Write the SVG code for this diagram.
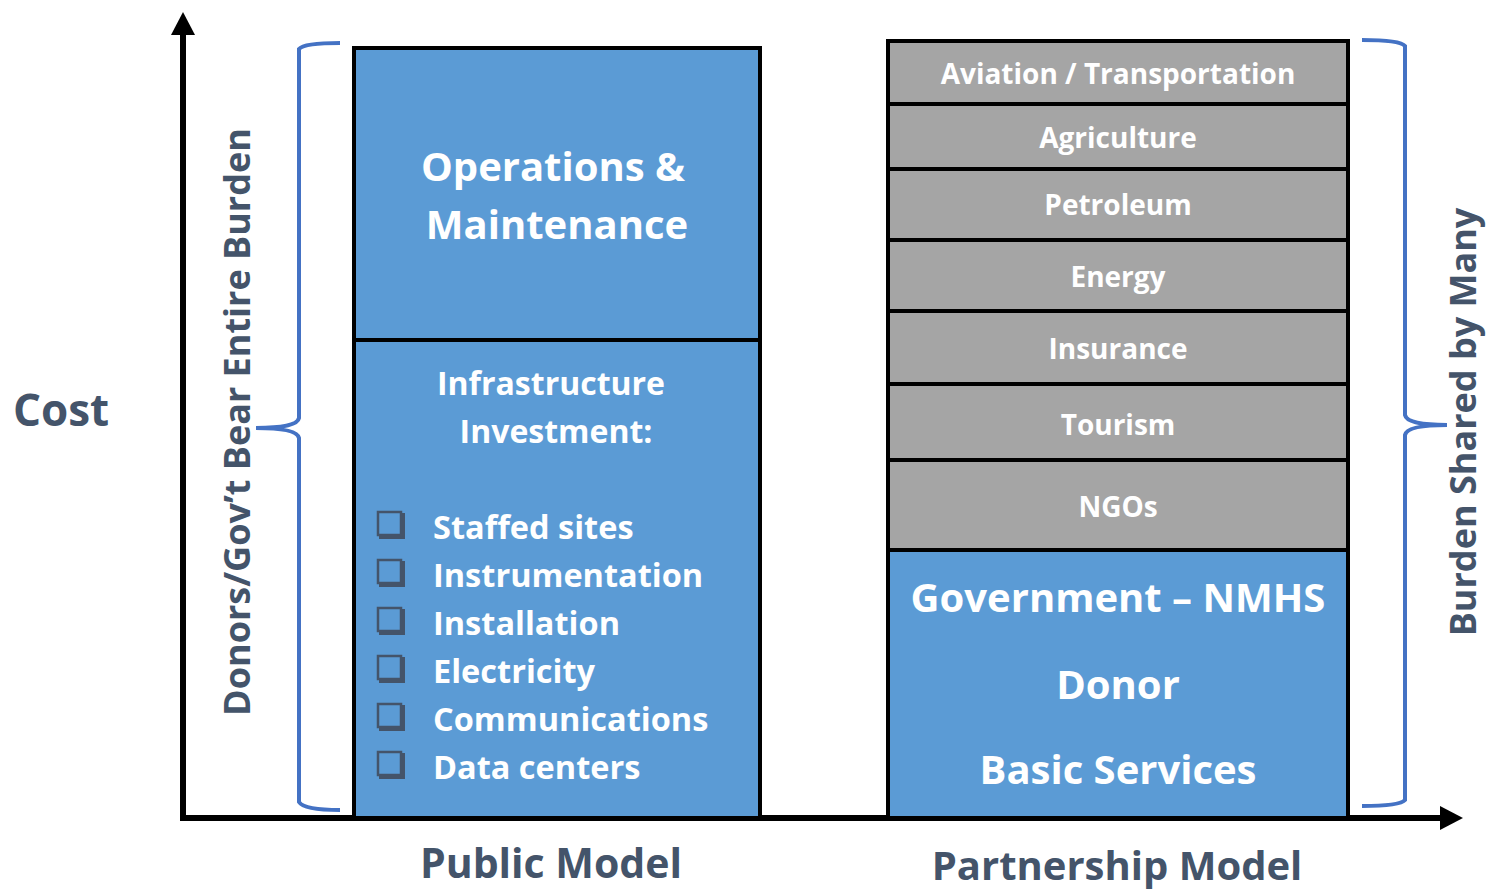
<svg xmlns="http://www.w3.org/2000/svg" width="1486" height="891" viewBox="0 0 1486 891">
<defs>
<style>
text{font-family:"Open Sans","Noto Sans","Liberation Sans",sans-serif;font-weight:bold;}
.w{fill:#ffffff;text-anchor:middle;}
.d{fill:#44546A;}
.blue{fill:#5B9BD5;stroke:#000;stroke-width:4;}
.gray{fill:#A5A5A5;stroke:#000;stroke-width:4;}
.brace{fill:none;stroke:#4472C4;stroke-width:4;}
.li{fill:#ffffff;font-size:32.5px;}
.g{font-size:28px;}
</style>
<symbol id="cb" overflow="visible">
<rect x="1" y="1" width="26" height="26" fill="#44546A"/>
<rect x="0" y="0" width="23" height="23" fill="#5B9BD5" stroke="#44546A" stroke-width="2.5"/>
</symbol>
</defs>

<g id="axes">
<line x1="183" y1="818" x2="183" y2="32" stroke="#000" stroke-width="6"/>
<polygon points="183,12 171,35 195,35" fill="#000"/>
<line x1="180" y1="818" x2="1442" y2="818" stroke="#000" stroke-width="6"/>
<polygon points="1463,818 1440,806 1440,830" fill="#000"/>
</g>

<g id="public-model">
<rect class="blue" x="354" y="48" width="406" height="292"/>
<rect class="blue" x="354" y="340" width="406" height="478"/>
<text class="w" x="553" y="181" font-size="40">Operations &amp;</text>
<text class="w" x="557" y="239" font-size="40">Maintenance</text>
<text class="w" x="551" y="395" font-size="32">Infrastructure</text>
<text class="w" x="556" y="443" font-size="32">Investment:</text>
<use href="#cb" x="378" y="512"/>
<use href="#cb" x="378" y="560"/>
<use href="#cb" x="378" y="608"/>
<use href="#cb" x="378" y="656"/>
<use href="#cb" x="378" y="704"/>
<use href="#cb" x="378" y="752"/>
<text class="li" x="433" y="539">Staffed sites</text>
<text class="li" x="433" y="587">Instrumentation</text>
<text class="li" x="433" y="635">Installation</text>
<text class="li" x="433" y="683">Electricity</text>
<text class="li" x="433" y="731">Communications</text>
<text class="li" x="433" y="779">Data centers</text>
</g>

<g id="partnership-model">
<rect class="gray" x="888" y="41" width="460" height="63"/>
<rect class="gray" x="888" y="104" width="460" height="65"/>
<rect class="gray" x="888" y="169" width="460" height="71"/>
<rect class="gray" x="888" y="240" width="460" height="71"/>
<rect class="gray" x="888" y="311" width="460" height="73"/>
<rect class="gray" x="888" y="384" width="460" height="76"/>
<rect class="gray" x="888" y="460" width="460" height="90"/>
<rect class="blue" x="888" y="550" width="460" height="268"/>
<text class="w g" x="1118" y="84">Aviation / Transportation</text>
<text class="w g" x="1118" y="148">Agriculture</text>
<text class="w g" x="1118" y="215">Petroleum</text>
<text class="w g" x="1118" y="287">Energy</text>
<text class="w g" x="1118" y="359">Insurance</text>
<text class="w g" x="1118" y="435">Tourism</text>
<text class="w g" x="1118" y="517">NGOs</text>
<text class="w" x="1118" y="612" font-size="40">Government – NMHS</text>
<text class="w" x="1118" y="699" font-size="40">Donor</text>
<text class="w" x="1118" y="784" font-size="40">Basic Services</text>
</g>

<g id="braces">
<path class="brace" d="M340,43 Q304,43 299,49 L299,418 Q297,428 256,428 Q297,428 299,438 L299,802 Q304,810 340,810"/>
<path class="brace" d="M1362,40 Q1400,40 1405,46 L1405,415 Q1407,425 1447,425 Q1407,425 1405,435 L1405,800 Q1400,806 1362,806"/>
</g>

<g id="labels">
<text class="d" x="61" y="426" font-size="44" text-anchor="middle">Cost</text>
<text class="d" x="551" y="878" font-size="41" text-anchor="middle">Public Model</text>
<text class="d" x="1117" y="880" font-size="40" text-anchor="middle">Partnership Model</text>
<text class="d" font-size="36" text-anchor="middle" transform="translate(250,422) rotate(-90)">Donors/Gov’t Bear Entire Burden</text>
<text class="d" font-size="36" text-anchor="middle" transform="translate(1476,422) rotate(-90)">Burden Shared by Many</text>
</g>
</svg>
